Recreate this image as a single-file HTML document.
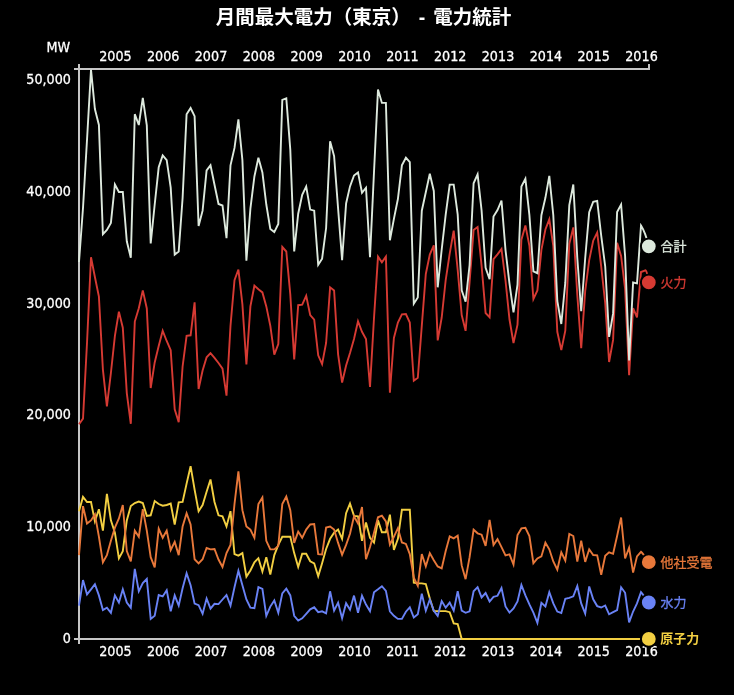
<!DOCTYPE html>
<html lang="ja"><head><meta charset="utf-8"><title>月間最大電力（東京） - 電力統計</title>
<style>
html,body{margin:0;padding:0;background:#000;}
body{width:734px;height:695px;overflow:hidden;position:relative;font-family:"DejaVu Sans","Liberation Sans","Noto Sans CJK JP",sans-serif;color:#fff;}
h1{position:absolute;left:0;top:8px;width:727px;margin:0;text-align:center;font:bold 19.5px/1 "Liberation Sans","Noto Sans CJK JP",sans-serif;white-space:pre;word-spacing:2.6px;}
svg{position:absolute;left:0;top:0;}
.ax text{fill:#fff;font-family:"DejaVu Sans","Liberation Sans","Noto Sans CJK JP",sans-serif;font-size:13.6px;stroke:#fff;stroke-width:.3px;}
.ln{fill:none;stroke-width:1.9;stroke-linejoin:miter;stroke-linecap:butt;}
.lb{font-family:"Liberation Sans","Noto Sans CJK JP",sans-serif;font-size:13px;stroke-width:.3px;}
</style></head><body>
<h1>月間最大電力（東京） - 電力統計</h1>
<svg width="734" height="695" viewBox="0 0 734 695">

<g class="ax">
<path d="M79,64 V69 H649 V64" fill="none" stroke="#c6c6c6" stroke-width="2"/>
<path d="M74,69 H79 V639 H74" fill="none" stroke="#c6c6c6" stroke-width="2"/>
<path d="M79,644 V639 H649" fill="none" stroke="#c6c6c6" stroke-width="2"/>
<text transform="translate(115.4 60.6) scale(.94 1)" text-anchor="middle">2005</text>
<text transform="translate(115.4 655.6) scale(.94 1)" text-anchor="middle">2005</text>
<text transform="translate(163.2 60.6) scale(.94 1)" text-anchor="middle">2006</text>
<text transform="translate(163.2 655.6) scale(.94 1)" text-anchor="middle">2006</text>
<text transform="translate(211.0 60.6) scale(.94 1)" text-anchor="middle">2007</text>
<text transform="translate(211.0 655.6) scale(.94 1)" text-anchor="middle">2007</text>
<text transform="translate(258.9 60.6) scale(.94 1)" text-anchor="middle">2008</text>
<text transform="translate(258.9 655.6) scale(.94 1)" text-anchor="middle">2008</text>
<text transform="translate(306.7 60.6) scale(.94 1)" text-anchor="middle">2009</text>
<text transform="translate(306.7 655.6) scale(.94 1)" text-anchor="middle">2009</text>
<text transform="translate(354.5 60.6) scale(.94 1)" text-anchor="middle">2010</text>
<text transform="translate(354.5 655.6) scale(.94 1)" text-anchor="middle">2010</text>
<text transform="translate(402.4 60.6) scale(.94 1)" text-anchor="middle">2011</text>
<text transform="translate(402.4 655.6) scale(.94 1)" text-anchor="middle">2011</text>
<text transform="translate(450.2 60.6) scale(.94 1)" text-anchor="middle">2012</text>
<text transform="translate(450.2 655.6) scale(.94 1)" text-anchor="middle">2012</text>
<text transform="translate(498.0 60.6) scale(.94 1)" text-anchor="middle">2013</text>
<text transform="translate(498.0 655.6) scale(.94 1)" text-anchor="middle">2013</text>
<text transform="translate(545.9 60.6) scale(.94 1)" text-anchor="middle">2014</text>
<text transform="translate(545.9 655.6) scale(.94 1)" text-anchor="middle">2014</text>
<text transform="translate(593.7 60.6) scale(.94 1)" text-anchor="middle">2015</text>
<text transform="translate(593.7 655.6) scale(.94 1)" text-anchor="middle">2015</text>
<text transform="translate(641.5 60.6) scale(.94 1)" text-anchor="middle">2016</text>
<text transform="translate(641.5 655.6) scale(.94 1)" text-anchor="middle">2016</text>
<text transform="translate(71.0 642.8) scale(.94 1)" text-anchor="end">0</text>
<text transform="translate(71.0 530.9) scale(.94 1)" text-anchor="end">10,000</text>
<text transform="translate(71.0 419.0) scale(.94 1)" text-anchor="end">20,000</text>
<text transform="translate(71.0 307.9) scale(.94 1)" text-anchor="end">30,000</text>
<text transform="translate(71.0 196.0) scale(.94 1)" text-anchor="end">40,000</text>
<text transform="translate(71.0 84.0) scale(.94 1)" text-anchor="end">50,000</text>
<text transform="translate(46.5 52.0) scale(.94 1)" text-anchor="start">MW</text>
</g>
<path class="ln" stroke="#f2cf42" d="M79.0,511.2 L83.0,496.9 L87.0,502.0 L91.0,502.0 L94.9,521.4 L98.9,509.2 L102.9,530.6 L106.9,493.8 L110.9,520.4 L114.9,532.7 L118.9,558.4 L122.8,551.2 L126.8,520.4 L130.8,506.0 L134.8,503.0 L138.8,501.6 L142.8,503.0 L146.8,515.9 L150.7,515.3 L154.7,501.0 L158.7,504.0 L162.7,505.7 L166.7,505.0 L170.7,503.6 L174.7,524.5 L178.7,502.4 L182.6,502.0 L186.6,483.6 L190.6,466.2 L194.6,489.7 L198.6,511.2 L202.6,505.0 L206.6,491.8 L210.5,479.5 L214.5,502.0 L218.5,515.3 L222.5,516.3 L226.5,526.5 L230.5,511.2 L234.5,554.1 L238.4,555.6 L242.4,553.1 L246.4,576.6 L250.4,570.5 L254.4,562.3 L258.4,558.2 L262.4,571.5 L266.3,557.2 L270.3,574.6 L274.3,555.1 L278.3,544.9 L282.3,536.8 L286.3,536.8 L290.3,536.8 L294.2,553.1 L298.2,567.0 L302.2,553.7 L306.2,553.7 L310.2,561.3 L314.2,563.3 L318.2,576.2 L322.1,563.3 L326.1,549.0 L330.1,538.8 L334.1,532.7 L338.1,529.6 L342.1,538.8 L346.1,513.2 L350.0,503.6 L354.0,515.9 L358.0,516.3 L362.0,540.8 L366.0,522.4 L370.0,537.8 L374.0,542.5 L378.0,520.4 L381.9,532.3 L385.9,532.3 L389.9,514.7 L393.9,550.0 L397.9,538.8 L401.9,509.8 L405.9,509.8 L409.8,509.8 L413.8,582.7 L417.8,583.4 L421.8,583.4 L425.8,584.0 L429.8,598.5 L433.8,611.1 L437.7,611.1 L441.7,611.1 L445.7,611.1 L449.7,612.2 L453.7,623.4 L457.7,624.0 L461.7,639.0 L465.6,639.0 L469.6,639.0 L473.6,639.0 L477.6,639.0 L481.6,639.0 L485.6,639.0 L489.6,639.0 L493.5,639.0 L497.5,639.0 L501.5,639.0 L505.5,639.0 L509.5,639.0 L513.5,639.0 L517.5,639.0 L521.4,639.0 L525.4,639.0 L529.4,639.0 L533.4,639.0 L537.4,639.0 L541.4,639.0 L545.4,639.0 L549.3,639.0 L553.3,639.0 L557.3,639.0 L561.3,639.0 L565.3,639.0 L569.3,639.0 L573.3,639.0 L577.3,639.0 L581.2,639.0 L585.2,639.0 L589.2,639.0 L593.2,639.0 L597.2,639.0 L601.2,639.0 L605.2,639.0 L609.1,639.0 L613.1,639.0 L617.1,639.0 L621.1,639.0 L625.1,639.0 L629.1,639.0 L633.1,639.0 L637.0,639.0 L641.0,639.0 L648.8,639"/>
<path class="ln" stroke="#6982f5" d="M79.0,605.6 L83.0,580.1 L87.0,594.4 L91.0,589.3 L94.9,584.2 L98.9,595.4 L102.9,610.1 L106.9,607.7 L110.9,612.8 L114.9,595.4 L118.9,602.6 L122.8,589.3 L126.8,602.6 L130.8,607.7 L134.8,568.8 L138.8,591.3 L142.8,583.1 L146.8,579.0 L150.7,618.9 L154.7,615.8 L158.7,595.0 L162.7,596.4 L166.7,590.3 L170.7,611.3 L174.7,595.4 L178.7,605.6 L182.6,588.2 L186.6,573.3 L190.6,585.2 L194.6,603.6 L198.6,605.2 L202.6,613.8 L206.6,598.5 L210.5,608.7 L214.5,603.8 L218.5,604.1 L222.5,599.5 L226.5,595.0 L230.5,605.6 L234.5,587.2 L238.4,570.9 L242.4,585.2 L246.4,599.5 L250.4,607.7 L254.4,608.1 L258.4,587.2 L262.4,588.9 L266.3,615.8 L270.3,606.6 L274.3,600.5 L278.3,612.8 L282.3,593.4 L286.3,588.7 L290.3,595.4 L294.2,615.8 L298.2,620.5 L302.2,618.3 L306.2,613.8 L310.2,609.3 L314.2,607.3 L318.2,612.2 L322.1,611.3 L326.1,613.4 L330.1,591.3 L334.1,610.7 L338.1,602.6 L342.1,618.3 L346.1,603.2 L350.0,609.7 L354.0,595.6 L358.0,612.8 L362.0,595.8 L366.0,604.6 L370.0,611.3 L374.0,592.3 L378.0,589.3 L381.9,586.2 L385.9,590.9 L389.9,611.3 L393.9,615.8 L397.9,618.9 L401.9,618.9 L405.9,611.7 L409.8,607.3 L413.8,617.5 L417.8,614.2 L421.8,593.8 L425.8,610.7 L429.8,599.5 L433.8,610.7 L437.7,615.8 L441.7,601.1 L445.7,607.7 L449.7,602.6 L453.7,610.7 L457.7,591.3 L461.7,610.7 L465.6,612.8 L469.6,611.3 L473.6,591.3 L477.6,587.2 L481.6,597.4 L485.6,593.0 L489.6,601.5 L493.5,596.8 L497.5,595.8 L501.5,588.1 L505.5,606.5 L509.5,612.6 L513.5,608.5 L517.5,601.4 L521.4,585.0 L525.4,595.3 L529.4,604.4 L533.4,612.6 L537.4,622.8 L541.4,602.8 L545.4,606.5 L549.3,592.2 L553.3,603.4 L557.3,611.6 L561.3,613.0 L565.3,598.7 L569.3,597.9 L573.3,596.3 L577.3,586.0 L581.2,603.4 L585.2,613.6 L589.2,586.5 L593.2,599.3 L597.2,606.1 L601.2,607.5 L605.2,605.5 L609.1,614.3 L613.1,612.2 L617.1,610.2 L621.1,587.3 L625.1,592.8 L629.1,622.4 L633.1,611.5 L637.0,603.4 L641.0,592.1 Q643,594.5 648.8,602.5"/>
<path class="ln" stroke="#e8783a" d="M79.0,555.1 L83.0,506.1 L87.0,523.5 L91.0,520.4 L94.9,514.3 L98.9,536.7 L102.9,562.3 L106.9,555.1 L110.9,540.8 L114.9,527.6 L118.9,518.4 L122.8,505.1 L126.8,551.1 L130.8,561.3 L134.8,530.6 L138.8,536.8 L142.8,509.2 L146.8,530.6 L150.7,557.2 L154.7,567.4 L158.7,528.6 L162.7,537.8 L166.7,530.6 L170.7,550.0 L174.7,541.9 L178.7,555.1 L182.6,526.5 L186.6,513.2 L190.6,524.5 L194.6,559.2 L198.6,563.3 L202.6,559.2 L206.6,548.0 L210.5,549.4 L214.5,549.0 L218.5,559.5 L222.5,567.0 L226.5,553.1 L230.5,544.9 L234.5,504.0 L238.4,471.3 L242.4,510.2 L246.4,526.5 L250.4,529.6 L254.4,537.8 L258.4,504.0 L262.4,497.5 L266.3,540.8 L270.3,549.4 L274.3,549.4 L278.3,545.9 L282.3,504.0 L286.3,496.5 L290.3,510.2 L294.2,542.9 L298.2,531.6 L302.2,537.8 L306.2,529.6 L310.2,524.5 L314.2,524.1 L318.2,554.1 L322.1,554.5 L326.1,527.6 L330.1,526.5 L334.1,529.6 L338.1,542.9 L342.1,554.7 L346.1,544.9 L350.0,533.7 L354.0,516.3 L358.0,523.5 L362.0,507.1 L366.0,559.2 L370.0,547.0 L374.0,532.7 L378.0,517.3 L381.9,515.7 L385.9,521.4 L389.9,544.5 L393.9,536.8 L397.9,528.2 L401.9,542.5 L405.9,543.9 L409.8,554.1 L413.8,577.6 L417.8,585.8 L421.8,554.1 L425.8,566.4 L429.8,553.1 L433.8,560.3 L437.7,566.4 L441.7,568.4 L445.7,551.1 L449.7,536.3 L453.7,538.4 L457.7,535.7 L461.7,565.4 L465.6,579.2 L469.6,557.2 L473.6,529.6 L477.6,533.3 L481.6,534.7 L485.6,545.9 L489.6,520.0 L493.5,545.0 L497.5,539.2 L501.5,547.2 L505.5,555.4 L509.5,554.4 L513.5,564.6 L517.5,535.0 L521.4,528.4 L525.4,527.8 L529.4,536.0 L533.4,563.2 L537.4,558.5 L541.4,556.4 L545.4,542.7 L549.3,549.3 L553.3,561.5 L557.3,569.7 L561.3,552.3 L565.3,560.5 L569.3,533.9 L573.3,536.0 L577.3,561.5 L581.2,540.7 L585.2,561.9 L589.2,549.3 L593.2,555.0 L597.2,555.4 L601.2,574.8 L605.2,555.8 L609.1,552.3 L613.1,553.8 L617.1,536.0 L621.1,517.5 L625.1,558.5 L629.1,547.7 L633.1,572.6 L637.0,556.4 L641.0,551.8 Q643,553.5 648.8,562.1"/>
<path class="ln" stroke="#d63a33" d="M79.0,424.2 L83.0,418.6 L87.0,343.0 L91.0,257.3 L94.9,277.0 L98.9,296.6 L102.9,369.6 L106.9,406.4 L110.9,373.0 L114.9,335.9 L118.9,311.6 L122.8,327.7 L126.8,393.1 L130.8,423.8 L134.8,321.6 L138.8,308.3 L142.8,290.4 L146.8,308.5 L150.7,388.0 L154.7,362.4 L158.7,346.1 L162.7,330.8 L166.7,341.0 L170.7,350.2 L174.7,409.4 L178.7,422.1 L182.6,366.5 L186.6,335.9 L190.6,335.3 L194.6,302.4 L198.6,389.0 L202.6,370.6 L206.6,357.3 L210.5,353.2 L214.5,357.8 L218.5,363.0 L222.5,368.6 L226.5,395.6 L230.5,325.7 L234.5,280.1 L238.4,269.5 L242.4,304.4 L246.4,364.5 L250.4,306.4 L254.4,285.7 L258.4,289.3 L262.4,292.4 L266.3,306.4 L270.3,325.7 L274.3,354.7 L278.3,344.0 L282.3,247.0 L286.3,251.5 L290.3,294.5 L294.2,359.4 L298.2,305.2 L302.2,304.6 L306.2,295.8 L310.2,315.0 L314.2,319.7 L318.2,355.3 L322.1,364.1 L326.1,343.0 L330.1,287.3 L334.1,290.4 L338.1,354.3 L342.1,382.5 L346.1,365.5 L350.0,353.0 L354.0,339.0 L358.0,321.2 L362.0,331.8 L366.0,339.0 L370.0,387.0 L374.0,318.0 L378.0,256.6 L381.9,262.4 L385.9,256.6 L389.9,392.7 L393.9,337.9 L397.9,322.6 L401.9,314.4 L405.9,314.0 L409.8,322.6 L413.8,380.8 L417.8,377.8 L421.8,325.7 L425.8,274.0 L429.8,254.6 L433.8,245.4 L437.7,340.4 L441.7,317.5 L445.7,280.0 L449.7,253.6 L453.7,230.7 L457.7,270.0 L461.7,315.0 L465.6,330.8 L469.6,282.0 L473.6,230.0 L477.6,227.0 L481.6,265.8 L485.6,313.0 L489.6,317.3 L493.5,259.1 L497.5,254.4 L501.5,248.9 L505.5,280.5 L509.5,319.5 L513.5,343.0 L517.5,324.6 L521.4,239.7 L525.4,225.4 L529.4,245.8 L533.4,299.0 L537.4,290.4 L541.4,249.9 L545.4,229.5 L549.3,219.3 L553.3,245.8 L557.3,331.8 L561.3,350.1 L565.3,330.7 L569.3,243.8 L573.3,227.4 L577.3,295.0 L581.2,348.1 L585.2,290.9 L589.2,260.1 L593.2,240.7 L597.2,232.6 L601.2,266.3 L605.2,303.0 L609.1,362.0 L613.1,339.9 L617.1,242.8 L621.1,256.0 L625.1,289.0 L629.1,375.1 L633.1,308.2 L637.0,317.4 L641.0,272.0 L645.5,270.3 Q647.2,271.5 648.8,282.4"/>
<path class="ln" stroke="#dde9dd" d="M79.0,262.0 L83.0,208.0 L87.0,140.0 L91.0,69.7 L94.9,109.0 L98.9,125.0 L102.9,234.2 L106.9,230.0 L110.9,222.9 L114.9,184.5 L118.9,192.0 L122.8,192.0 L126.8,241.3 L130.8,257.7 L134.8,114.2 L138.8,125.0 L142.8,97.8 L146.8,125.4 L150.7,243.4 L154.7,204.5 L158.7,167.3 L162.7,155.4 L166.7,160.1 L170.7,187.7 L174.7,254.6 L178.7,251.5 L182.6,198.0 L186.6,114.2 L190.6,108.0 L194.6,116.2 L198.6,226.0 L202.6,210.7 L206.6,170.4 L210.5,165.3 L214.5,184.7 L218.5,204.0 L222.5,205.5 L226.5,238.2 L230.5,165.3 L234.5,147.9 L238.4,119.3 L242.4,160.1 L246.4,260.7 L250.4,208.6 L254.4,176.5 L258.4,157.7 L262.4,172.4 L266.3,204.5 L270.3,229.0 L274.3,232.1 L278.3,223.9 L282.3,99.9 L286.3,98.4 L290.3,149.9 L294.2,251.5 L298.2,213.7 L302.2,194.9 L306.2,186.6 L310.2,209.6 L314.2,210.7 L318.2,264.8 L322.1,258.7 L326.1,228.0 L330.1,141.3 L334.1,156.1 L338.1,208.6 L342.1,260.1 L346.1,203.5 L350.0,186.4 L354.0,175.5 L358.0,172.4 L362.0,192.8 L366.0,187.7 L370.0,257.3 L374.0,172.0 L378.0,89.6 L381.9,102.9 L385.9,102.9 L389.9,240.3 L393.9,218.8 L397.9,199.0 L401.9,165.3 L405.9,157.7 L409.8,162.2 L413.8,303.7 L417.8,297.5 L421.8,210.7 L425.8,192.3 L429.8,173.8 L433.8,191.0 L437.7,287.3 L441.7,249.5 L445.7,214.7 L449.7,184.6 L453.7,184.6 L457.7,214.7 L461.7,290.4 L465.6,301.6 L469.6,265.0 L473.6,183.3 L477.6,174.4 L481.6,210.7 L485.6,267.9 L489.6,279.3 L493.5,216.5 L497.5,210.0 L501.5,200.5 L505.5,250.0 L509.5,283.6 L513.5,312.3 L517.5,284.7 L521.4,186.6 L525.4,178.8 L529.4,215.2 L533.4,271.4 L537.4,273.2 L541.4,215.2 L545.4,197.8 L549.3,175.9 L553.3,215.2 L557.3,301.0 L561.3,324.0 L565.3,282.7 L569.3,205.0 L573.3,184.5 L577.3,258.0 L581.2,311.3 L585.2,258.0 L589.2,212.1 L593.2,201.9 L597.2,200.9 L601.2,235.6 L605.2,266.3 L609.1,336.9 L613.1,313.4 L617.1,212.1 L621.1,204.6 L625.1,256.0 L629.1,360.4 L633.1,282.5 L637.0,283.4 L641.0,225.6 Q645.3,232.3 648.8,246.3"/>
<circle cx="648.8" cy="246.3" r="7.9" fill="#dde9dd" stroke="#000" stroke-width="2"/>
<text class="lb" x="660.6" y="251.1" fill="#dde9dd" stroke="#dde9dd">合計</text>
<circle cx="648.8" cy="282.4" r="7.9" fill="#d63a33" stroke="#000" stroke-width="2"/>
<text class="lb" x="660.6" y="287.2" fill="#d63a33" stroke="#d63a33">火力</text>
<circle cx="648.8" cy="562.2" r="7.9" fill="#e8783a" stroke="#000" stroke-width="2"/>
<text class="lb" x="660.6" y="567.0" fill="#e8783a" stroke="#e8783a">他社受電</text>
<circle cx="648.8" cy="602.5" r="7.9" fill="#6982f5" stroke="#000" stroke-width="2"/>
<text class="lb" x="660.6" y="607.3" fill="#6982f5" stroke="#6982f5">水力</text>
<circle cx="648.8" cy="638.9" r="7.9" fill="#f2cf42" stroke="#000" stroke-width="2"/>
<text class="lb" x="660.2" y="642.7" fill="#f2cf42" font-weight="bold">原子力</text>
</svg></body></html>
